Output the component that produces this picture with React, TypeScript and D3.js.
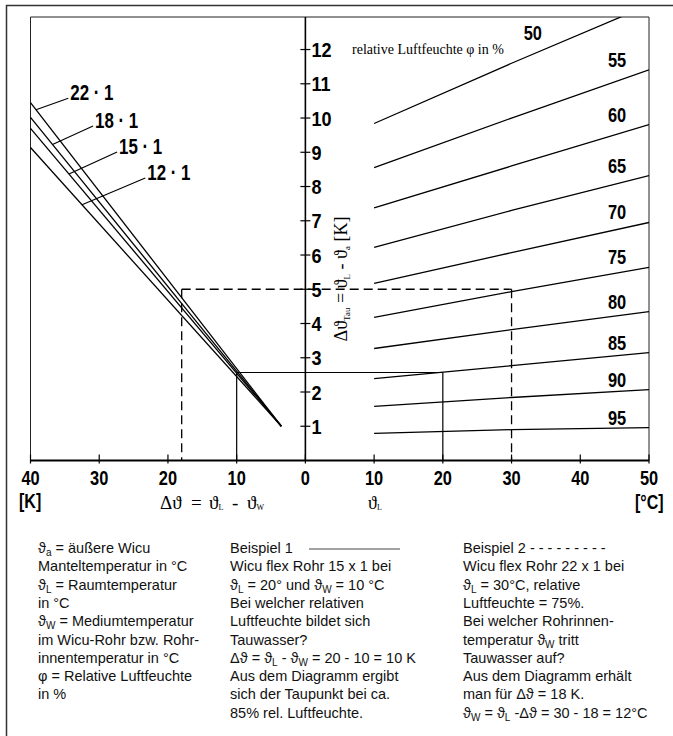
import React from "react";
import * as d3 from "d3";

// relative humidity curves (right half): dew-point depression at room temperature 10 / 30 / 50 °C
const phiLevels = [50, 55, 60, 65, 70, 75, 80, 85, 90, 95];
const tauAt10 = [9.84, 8.55, 7.38, 6.22, 5.17, 4.18, 3.27, 2.39, 1.58, 0.79];
const tauAt30 = [11.6, 10.0, 8.6, 7.3, 6.07, 4.93, 3.82, 2.77, 1.84, 0.9];
const tauAt50 = [13.3, 11.41, 9.81, 8.32, 6.95, 5.64, 4.35, 3.15, 2.07, 0.96];
const roomTemps = [10, 30, 50];

// pipe size lines (left half): tau at delta 40 K, all meeting at one point
const pipeLabels = ["22 · 1", "18 · 1", "15 · 1", "12 · 1"];
const pipeTauAt40 = [10.45, 10.02, 9.7, 9.14];
const pipeEndDelta = 3.5;
const pipeEndTau = 1.0;
// label anchors and where the leader meets the line
const pipeLabelDelta = [34.5, 30.9, 27.4, 23.3];
const pipeLabelTau = [10.58, 9.77, 9.01, 8.25];
const pipeLeaderDelta = [39.2, 36.8, 34.4, 32.5];

// the two worked examples
const exampleDelta = [10, 18];
const exampleRoomT = [20, 30];
const exampleTau = [2.57, 5];

const yTicks = [1, 2, 3, 4, 5, 6, 7, 8, 9, 10, 11, 12];
const xTicks = [-40, -30, -20, -10, 0, 10, 20, 30, 40, 50];

const leftNotes = [
  "ϑ_a = äußere Wicu",
  "Manteltemperatur in °C",
  "ϑ_L = Raumtemperatur",
  "in °C",
  "ϑ_W = Mediumtemperatur",
  "im Wicu-Rohr bzw. Rohr-",
  "innentemperatur in °C",
  "φ = Relative Luftfeuchte",
  "in %",
];
const midNotes = [
  "Beispiel 1",
  "Wicu flex Rohr 15 x 1 bei",
  "ϑ_L = 20° und ϑ_W = 10 °C",
  "Bei welcher relativen",
  "Luftfeuchte bildet sich",
  "Tauwasser?",
  "Δϑ = ϑ_L - ϑ_W = 20 - 10 = 10 K",
  "Aus dem Diagramm ergibt",
  "sich der Taupunkt bei ca.",
  "85% rel. Luftfeuchte.",
];
const rightNotes = [
  "Beispiel 2 - - - - - - - - -",
  "Wicu flex Rohr 22 x 1 bei",
  "ϑ_L = 30°C, relative",
  "Luftfeuchte = 75%.",
  "Bei welcher Rohrinnen-",
  "temperatur ϑ_W tritt",
  "Tauwasser auf?",
  "Aus dem Diagramm erhält",
  "man für Δϑ = 18 K.",
  "ϑ_W = ϑ_L -Δϑ = 30 - 18 = 12°C",
];

const W = 673, H = 736;
const X0 = 30.5, X1 = 649, YB = 460.5, YT = 17;
const NUM_FONT = "'Liberation Sans','DejaVu Sans',sans-serif";
const SERIF = "'Liberation Serif','DejaVu Serif',serif";
const SANS = "'Liberation Sans',Arial,'DejaVu Sans',sans-serif";

// condensed numerals: regular font squeezed horizontally
function NumText({ x, y, sx, size = 20, anchor = "start", children }: any) {
  return (
    <text
      transform={`translate(${x},${y}) scale(${sx},1)`}
      textAnchor={anchor}
      fontFamily={NUM_FONT}
      fontWeight="bold"
      fontSize={size}
      fill="#000"
    >
      {children}
    </text>
  );
}

function NoteLine({ text, x, y }: { text: string; x: number; y: number }) {
  const parts = text.split(/_([A-Za-z])/);
  return (
    <text x={x} y={y} fontFamily={SANS} fontSize={14.5} fill="#111">
      {parts.map((p, i) =>
        i % 2 ? (
          <tspan key={i} dy={3} fontSize={10}>{p}</tspan>
        ) : (
          <tspan key={i} dy={i > 0 ? -3 : 0}>{p}</tspan>
        )
      )}
    </text>
  );
}

export default function App() {
  const x = d3.scaleLinear().domain([-40, 50]).range([X0, X1]);
  const y = d3.scaleLinear().domain([0, 12.95]).range([YB, YT]);
  const line = d3.line<[number, number]>().x(d => x(d[0])).y(d => y(d[1]));

  const pipeTau = (i: number, dk: number) =>
    pipeEndTau + (pipeTauAt40[i] - pipeEndTau) * (dk - pipeEndDelta) / (40 - pipeEndDelta);

  const lineHeight = 18.3;
  const firstBase = 553;

  return (
    <svg width={W} height={H} style={{ position: "absolute", left: 0, top: 0, background: "#fff" }}>
      <defs>
        <clipPath id="plot">
          <rect x={X0} y={YT} width={X1 - X0} height={YB - YT} />
        </clipPath>
      </defs>

      {/* outer frame */}
      <path d={`M6.5,${H} V5.5 H${W}`} fill="none" stroke="#333" strokeWidth={1.5} />

      {/* plot frame */}
      <path d={`M${X0},${YB} V${YT} H${X1} V${YB}`} fill="none" stroke="#222" strokeWidth={1} />
      <line x1={X0} x2={X1} y1={YB} y2={YB} stroke="#000" strokeWidth={2} />
      <line x1={x(0)} x2={x(0)} y1={YT} y2={YB} stroke="#000" strokeWidth={1.6} />

      {/* y ticks */}
      {yTicks.map(t => (
        <g key={t}>
          <line x1={x(0) - 5} x2={x(0) + 5} y1={y(t)} y2={y(t)} stroke="#000" strokeWidth={1.2} />
          <NumText x={x(0) + 6} y={y(t) + 7.5} sx={0.88} size={20.5}>{t}</NumText>
        </g>
      ))}

      {/* x ticks */}
      {xTicks.map(t => (
        <g key={t}>
          <line x1={x(t)} x2={x(t)} y1={YB - 6} y2={YB + 3} stroke="#000" strokeWidth={1.2} />
          <NumText x={x(t)} y={485} sx={0.8} size={20.5} anchor="middle">{Math.abs(t)}</NumText>
        </g>
      ))}
      <NumText x={19} y={508} sx={0.8} size={20}>[K]</NumText>
      <NumText x={635} y={509} sx={0.8} size={20}>[°C]</NumText>

      <text y={509} fontFamily={SERIF} fontSize={19}>
        <tspan x={160}>Δϑ</tspan>
        <tspan x={191}>=</tspan>
        <tspan x={209}>ϑ</tspan><tspan fontSize={8} dy={1}>L</tspan>
        <tspan x={232} dy={-1}>-</tspan>
        <tspan x={247}>ϑ</tspan><tspan fontSize={8} dy={1}>W</tspan>
      </text>
      <text x={368} y={509} fontFamily={SERIF} fontSize={18}>
        ϑ<tspan fontSize={8} dy={1}>L</tspan>
      </text>

      {/* y axis title */}
      <text transform={`translate(347,${y(5.3)}) rotate(-90)`} textAnchor="middle" fontFamily={SERIF} fontSize={18}>
        Δϑ<tspan fontSize={9} dy={3}>Tau</tspan><tspan dy={-3}> = ϑ</tspan><tspan fontSize={9} dy={3}>L</tspan>
        <tspan dy={-3}> - ϑ</tspan><tspan fontSize={9} dy={3}>a</tspan><tspan dy={-3}> [K]</tspan>
      </text>

      <text x={352} y={54} fontFamily={SERIF} fontSize={14}>relative Luftfeuchte φ in %</text>

      {/* humidity curves */}
      <g clipPath="url(#plot)">
        {phiLevels.map((p, i) => (
          <path
            key={p}
            d={line(roomTemps.map((t, k) => [t, [tauAt10[i], tauAt30[i], tauAt50[i]][k]]) as [number, number][]) || ""}
            fill="none"
            stroke="#000"
            strokeWidth={1.3}
          />
        ))}
      </g>
      {phiLevels.map((p, i) => (
        <NumText
          key={p}
          x={i === 0 ? x(33.1) : x(45.35)}
          y={i === 0 ? y(12.28) : y(tauAt50[i]) - 3}
          sx={0.8}
          size={20.5}
          anchor="middle"
        >
          {p}
        </NumText>
      ))}

      {/* pipe lines */}
      {pipeLabels.map((lab, i) => (
        <g key={lab}>
          <path d={line([[-40, pipeTauAt40[i]], [-pipeEndDelta, pipeEndTau]]) || ""} fill="none" stroke="#000" strokeWidth={1.3} />
          <line
            x1={x(-pipeLabelDelta[i])}
            y1={y(pipeLabelTau[i])}
            x2={x(-pipeLeaderDelta[i])}
            y2={y(pipeTau(i, pipeLeaderDelta[i]))}
            stroke="#000"
            strokeWidth={1.1}
          />
          <NumText x={x(-pipeLabelDelta[i]) + 2} y={y(pipeLabelTau[i]) + 2} sx={0.75} size={22.5}>
            {lab}
          </NumText>
        </g>
      ))}

      {/* example 1: solid */}
      <g stroke="#000" strokeWidth={1.2} fill="none">
        <path d={line([[-exampleDelta[0], exampleTau[0]], [exampleRoomT[0], exampleTau[0]]]) || ""} />
        <path d={line([[-exampleDelta[0], exampleTau[0]], [-exampleDelta[0], 0]]) || ""} />
        <path d={line([[exampleRoomT[0], exampleTau[0]], [exampleRoomT[0], 0]]) || ""} />
      </g>
      {/* example 2: dashed */}
      <g stroke="#000" strokeWidth={1.3} fill="none" strokeDasharray="9 5">
        <path d={line([[-exampleDelta[1], exampleTau[1]], [exampleRoomT[1], exampleTau[1]]]) || ""} />
        <path d={line([[-exampleDelta[1], exampleTau[1]], [-exampleDelta[1], 0]]) || ""} />
        <path d={line([[exampleRoomT[1], exampleTau[1]], [exampleRoomT[1], 0]]) || ""} />
      </g>

      {/* notes */}
      {leftNotes.map((t, i) => <NoteLine key={i} text={t} x={38} y={firstBase + i * lineHeight} />)}
      {midNotes.map((t, i) => <NoteLine key={i} text={t} x={230} y={firstBase + i * lineHeight} />)}
      {rightNotes.map((t, i) => <NoteLine key={i} text={t} x={463} y={firstBase + i * lineHeight} />)}
      <line x1={309} x2={400} y1={firstBase - 4} y2={firstBase - 4} stroke="#444" strokeWidth={1} />
    </svg>
  );
}
